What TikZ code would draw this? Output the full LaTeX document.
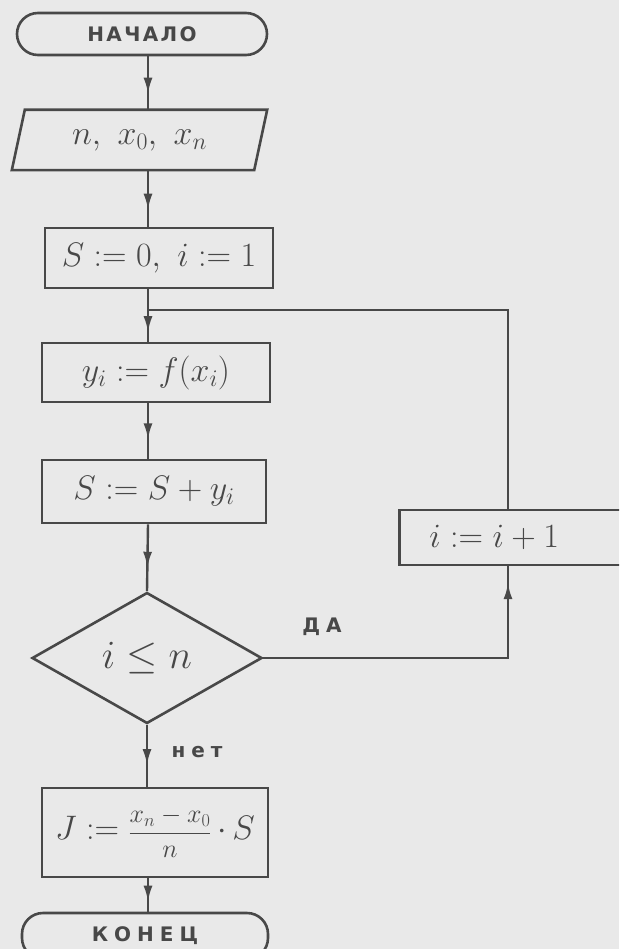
\RequirePackage{fix-cm}
\documentclass[tikz,border=0pt]{standalone}
\usepackage{amsmath}
\usepackage{fontspec}
\setmainfont{DejaVu Sans}
\newfontfamily\cyr[LetterSpace=12]{DejaVu Sans}
\newfontfamily\cyrwide[LetterSpace=30]{DejaVu Sans}
\usetikzlibrary{shapes.geometric,arrows.meta,decorations.markings}
\definecolor{paper}{HTML}{E9E9E9}
\definecolor{ink}{HTML}{484848}
\begin{document}
\begin{tikzpicture}[x=1pt,y=-1pt,
  every node/.style={text=ink},
  mathfont/.style={font=\fontsize{34}{38}\selectfont},
  box/.style={draw=ink, line width=2.6pt, rectangle, inner sep=0pt, mathfont},
  term/.style={draw=ink, line width=2.6pt, rectangle, rounded corners=21pt, inner sep=0pt, font=\cyr\bfseries\fontsize{20}{22}\selectfont},
  flow/.style={draw=ink, line width=2.4pt},
  midarrow/.style={postaction={decorate}, decoration={markings, mark=at position #1 with {\arrow{Latex[length=16pt,width=9pt]}}}},
  lbl/.style={font=\cyrwide\bfseries\fontsize{20}{22}\selectfont, text=ink}
]
\fill[paper] (0,0) rectangle (619,949);
\useasboundingbox (0,0) rectangle (619,949);
\clip (0,0) rectangle (619,949);

\coordinate (mx) at (148,0);
\coordinate (rx) at (508,0);
\coordinate (jn) at (148,310);

\node[term, minimum width=250pt, minimum height=42pt] (start) at (142,34) {НАЧАЛО};
\node[inner sep=0pt, minimum width=242pt, minimum height=60pt, mathfont] (inp) at (139.5,140) {$n,\ x_0,\ x_n$};
\draw[flow, line width=2.6pt] ([xshift=6.5pt]inp.north west) -- ([xshift=6.5pt]inp.north east) -- ([xshift=-6.5pt]inp.south east) -- ([xshift=-6.5pt]inp.south west) -- cycle;
\node[box, minimum width=228pt, minimum height=60pt] (s0) at (159,258) {$S:=0,\ i:=1$};
\node[box, minimum width=228pt, minimum height=59pt] (yi) at (156,372.5) {$y_i:=f(x_i)$};
\node[box, minimum width=224pt, minimum height=63pt] (ss) at (154,491.5) {$S:=S+y_i$};
\node[draw=ink, line width=2.6pt, diamond, minimum width=230pt, minimum height=131pt, inner sep=0pt, font=\fontsize{40}{44}\selectfont] (dec) at (147,658) {$i\le n$};
\node[box, minimum width=226pt, minimum height=89pt] (jj) at (155,832.5) {$J:={}${\fontsize{26}{30}\selectfont$\dfrac{x_n-x_0}{n}$}$\,\cdot\, S$};
\node[term, minimum width=246pt, minimum height=46pt, font=\cyrwide\bfseries\fontsize{20}{22}\selectfont] (end) at (145,936) {КОНЕЦ};
\node[box, anchor=west, minimum height=55pt, text width=200pt, inner xsep=30pt, inner ysep=0pt, align=left] (inc) at (398,537.5) {$i:=i+1$};

\draw[flow, midarrow=0.7] (start.south -| mx) -- (inp.north -| mx);
\draw[flow, midarrow=0.7] (inp.south -| mx) -- (s0.north -| mx);
\draw[flow] (s0.south -| mx) -- (jn);
\draw[flow, midarrow=0.7] (jn) -- (yi.north -| mx);
\draw[flow, midarrow=0.65] (yi.south -| mx) -- (ss.north -| mx);
\draw[flow, midarrow=0.65] (ss.south -| mx) -- (dec.north);
\draw[flow, midarrow=0.65] (dec.south) -- (jj.north -| dec.south);
\draw[flow, midarrow=0.7] (jj.south -| mx) -- (end.north -| mx);
\draw[flow, midarrow=0.95] (dec.east) -| (inc.south -| rx);
\draw[flow] (inc.north -| rx) |- (jn);

\node[lbl] (yes) at (322,627) {ДА};
\node[lbl] (no) at (197,752) {нет};
\end{tikzpicture}
\end{document}
